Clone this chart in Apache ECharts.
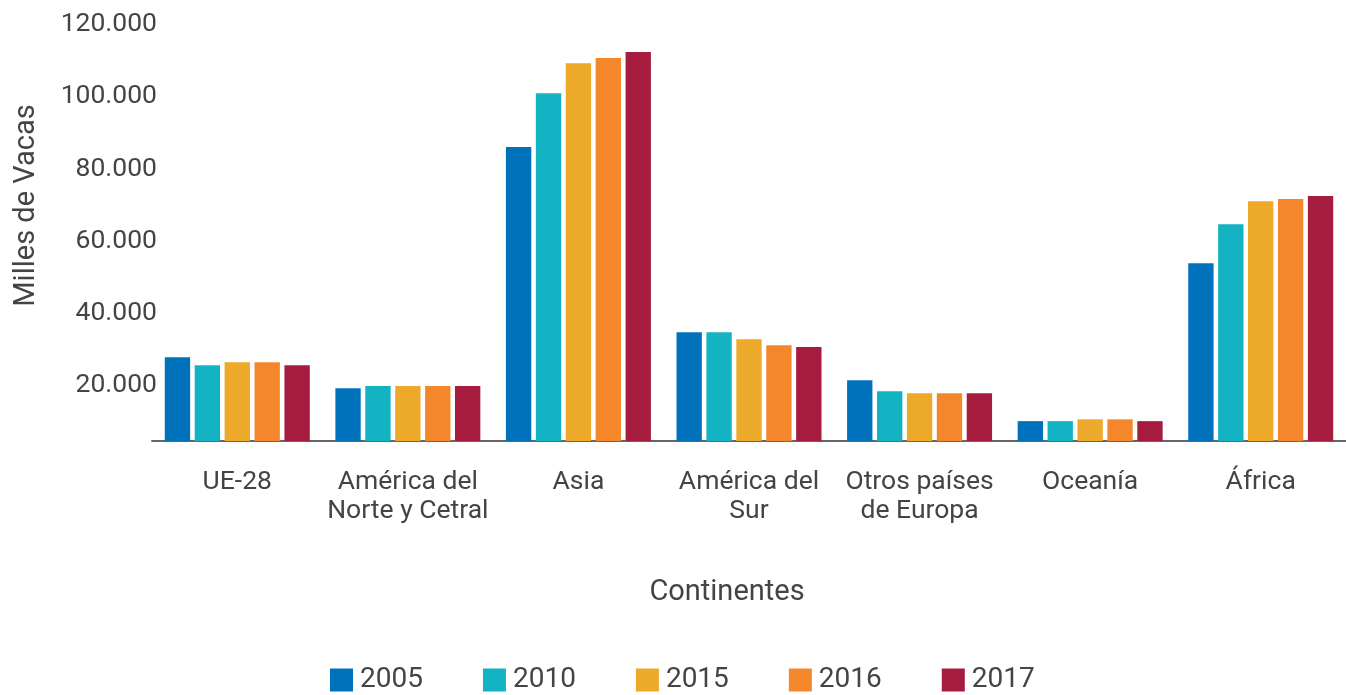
<!DOCTYPE html>
<html>
<head>
<meta charset="utf-8">
<script src="https://cdn.jsdelivr.net/npm/echarts@6/dist/echarts.min.js"></script>
<style>
  html, body { margin: 0; padding: 0; background: #fff; }
  #chart { width: 1346px; height: 695px; }
</style>
</head>
<body>
<div id="chart"></div>
<script>
// datos (miles de vacas)
var continentes = ["UE-28", "América del\nNorte y Cetral", "Asia", "América del\nSur", "Otros países\nde Europa", "Oceanía", "África"];
var years = ["2005", "2010", "2015", "2016", "2017"];
var v2005 = [27200, 18600, 85400, 34100, 20800, 9500, 53200];
var v2010 = [25000, 19200, 100300, 34100, 17800, 9500, 64000];
var v2015 = [25800, 19200, 108600, 32200, 17200, 10000, 70400];
var v2016 = [25800, 19200, 110000, 30500, 17200, 10000, 71000];
var v2017 = [25000, 19200, 111700, 30000, 17200, 9500, 71800];
var yTicks = [20000, 40000, 60000, 80000, 100000, 120000];
var yTickLabels = ["20.000", "40.000", "60.000", "80.000", "100.000", "120.000"];

var colors = ["#0072bb", "#14b3c3", "#eca92a", "#f4872c", "#a61c3e"];
var allValues = [v2005, v2010, v2015, v2016, v2017];

var chart = echarts.init(document.getElementById("chart"));
var txt = "#444";
var font = "Roboto";

var series = years.map(function (y, i) {
  return {
    name: y,
    type: "bar",
    data: allValues[i],
    barCategoryGap: "15%",
    barGap: "18%",
    clip: true,
    itemStyle: { color: colors[i] },
  };
});

var option = {
  animation: false,
  color: colors,
  grid: { left: 152, right: 0, top: 22, bottom: 254, containLabel: false, outerBoundsMode: "none" },
  legend: {
    data: years,
    left: 325,
    top: 661,
    itemWidth: 23,
    itemHeight: 23,
    itemGap: 60,
    icon: "rect",
    textStyle: { fontFamily: font, fontSize: 28, color: txt, padding: [0, 0, 0, 2] },
  },
  xAxis: {
    type: "category",
    data: continentes,
    name: "Continentes",
    nameLocation: "middle",
    nameGap: 137,
    nameTextStyle: { fontFamily: font, fontSize: 29, color: txt, padding: [0, 44, 0, 0] },
    axisLine: { lineStyle: { color: "#666", width: 2 } },
    axisTick: { show: false },
    axisLabel: {
      fontFamily: font,
      fontSize: 26.5,
      color: txt,
      margin: 27,
      lineHeight: 29,
      interval: 0,
    },
  },
  yAxis: {
    type: "value",
    min: 4000,
    max: 120000,
    name: "Milles de Vacas",
    nameLocation: "middle",
    nameGap: 111,
    nameTextStyle: { fontFamily: font, fontSize: 29, color: txt, padding: [0, 0, 0, 52] },
    axisLine: { show: false },
    axisTick: { show: false },
    splitLine: { show: false },
    axisLabel: {
      customValues: yTicks,
      fontFamily: font,
      fontSize: 26.5,
      color: txt,
      margin: -5,
      verticalAlign: "top",
      lineHeight: 5,
      formatter: function (v) {
        var k = yTicks.indexOf(v);
        return k >= 0 ? yTickLabels[k] : "";
      },
    },
  },
  series: series,
};
chart.setOption(option);
</script>
</body>
</html>
